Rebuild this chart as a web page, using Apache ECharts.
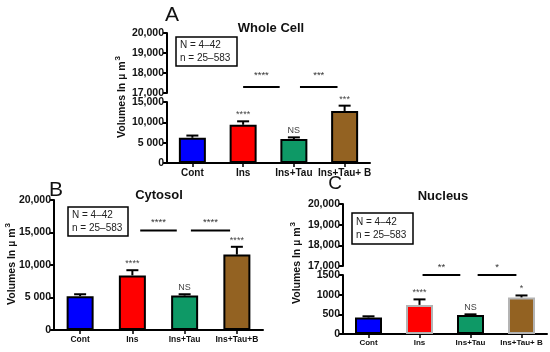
<!DOCTYPE html>
<html>
<head>
<meta charset="utf-8">
<script src="https://cdn.jsdelivr.net/npm/echarts@6/dist/echarts.min.js"></script>
<style>html,body{margin:0;padding:0;background:#fff}#c{width:550px;height:352px}</style>
</head>
<body>
<div id="c"></div>
<script>
// ---------- DATA ----------
const categoriesA = ['Cont', 'Ins', 'Ins+Tau', 'Ins+Tau+ B'];
const categoriesB = ['Cont', 'Ins', 'Ins+Tau', 'Ins+Tau+B'];
const categoriesC = ['Cont', 'Ins', 'Ins+Tau', 'Ins+Tau+ B'];

const meanA = [6200, 9400, 5900, 12800];
const semA  = [550, 850, 400, 1300];
const sigA  = ['', '****', 'NS', '***'];

const meanB = [5200, 8400, 5300, 11600];
const semB  = [300, 800, 200, 1200];
const sigB  = ['', '****', 'NS', '****'];

const meanC = [420, 740, 480, 930];
const semC  = [30, 140, 20, 50];
const sigC  = ['', '****', 'NS', '*'];

// brackets: [from (category units), to (category units), value, label]
const bracketsA = [[1.0, 1.72, 17300, '****'], [2.12, 2.86, 17300, '***']];
const bracketsB = [[1.15, 1.85, 15300, '****'], [2.12, 2.87, 15300, '****']];
const bracketsC = [[1.06, 1.8, 1500, '**'], [2.14, 2.9, 1500, '*']];

const tickValsUpper   = [17000, 18000, 19000, 20000];
const tickLabelsUpper = ['17,000', '18,000', '19,000', '20,000'];
const tickValsALower   = [0, 5000, 10000, 15000];
const tickLabelsALower = ['0', '5 000', '10,000', '15,000'];
const tickValsB   = [0, 5000, 10000, 15000, 20000];
const tickLabelsB = ['0', '5 000', '10,000', '15,000', '20,000'];
const tickValsCLower   = [0, 500, 1000, 1500];
const tickLabelsCLower = ['0', '500', '1000', '1500'];

const annotationLines = ['N = 4–42', 'n = 25–583'];
const yAxisName = 'Volumes In µ m';
// ---------- STYLE ----------
const FONT = '"Liberation Sans", Arial, sans-serif';
const barColors = ['#0000FF', '#FF0000', '#0E9966', '#936222'];
const bordersDefault = ['#000', '#000', '#000', '#000'];
const bordersC = ['#000', '#b4b4b4', '#000', '#b4b4b4'];

function fmt(vals, labels) {
  return function (v) { const k = vals.indexOf(v); return k >= 0 ? labels[k] : ''; };
}

function yAxis(gridIndex, min, max, interval, vals, labels) {
  return {
    type: 'value', gridIndex, min, max, interval,
    axisLine: { show: true, lineStyle: { color: '#000', width: 2 } },
    axisTick: { show: true, length: 4, lineStyle: { color: '#000', width: 2 } },
    splitLine: { show: false },
    axisLabel: { formatter: fmt(vals, labels), fontFamily: FONT, fontWeight: 'bold', fontSize: 10.5, color: '#111', margin: 3 }
  };
}
function xAxis(gridIndex, cats, show, fontSize) {
  return {
    type: 'category', gridIndex, data: cats, show: show,
    axisLine: { show: show, lineStyle: { color: '#000', width: 2 } },
    axisTick: { show: show, alignWithLabel: true, length: 4, lineStyle: { color: '#000', width: 1.5 } },
    axisLabel: { show: show, fontFamily: FONT, fontWeight: 'bold', fontSize: fontSize, color: '#111', margin: 5, interval: 0 }
  };
}
function barSeries(axisIdx, means, borders) {
  return {
    type: 'bar', xAxisIndex: axisIdx, yAxisIndex: axisIdx, barWidth: 27, z: 2,
    data: means.map((m, i) => ({ value: m, itemStyle: { color: barColors[i], borderColor: borders[i], borderWidth: 2 } }))
  };
}
function errSeries(axisIdx, means, sems, sigs, fontSize) {
  return {
    type: 'custom', xAxisIndex: axisIdx, yAxisIndex: axisIdx, z: 3,
    data: means.map((m, i) => [i, m, sems[i]]),
    renderItem: function (params, api) {
      const i = api.value(0), m = api.value(1), s = api.value(2);
      const base = api.coord([i, m]);
      const top = api.coord([i, m + s]);
      const cap = 6;
      const children = [];
      if (s > 0) {
        children.push({ type: 'line', shape: { x1: base[0], y1: base[1], x2: top[0], y2: top[1] }, style: { stroke: '#000', lineWidth: 2 } });
        children.push({ type: 'line', shape: { x1: top[0] - cap, y1: top[1], x2: top[0] + cap, y2: top[1] }, style: { stroke: '#000', lineWidth: 2 } });
      }
      const sig = sigs[params.dataIndex];
      if (sig) {
        children.push({ type: 'text', x: top[0], y: top[1] - 2, style: { text: sig, fill: '#444', fontFamily: FONT, fontSize: fontSize, align: 'center', verticalAlign: 'bottom' } });
      }
      return { type: 'group', children };
    }
  };
}
function bracketSeries(axisIdx, brackets, gap, lw) {
  return {
    type: 'custom', xAxisIndex: axisIdx, yAxisIndex: axisIdx, z: 3, clip: false,
    data: brackets.map(b => [Math.floor(b[0]), b[2]]),
    renderItem: function (params, api) {
      const b = brackets[params.dataIndex];
      const band = api.size([1, 0])[0];
      const f0 = Math.floor(b[0]), f1 = Math.floor(b[1]);
      const p0 = api.coord([f0, b[2]]);
      const p1 = api.coord([f1, b[2]]);
      const x0 = p0[0] + (b[0] - f0) * band;
      const x1 = p1[0] + (b[1] - f1) * band;
      return { type: 'group', children: [
        { type: 'line', shape: { x1: x0, y1: p0[1], x2: x1, y2: p0[1] }, style: { stroke: '#000', lineWidth: lw } },
        { type: 'text', x: (x0 + x1) / 2, y: p0[1] - gap, style: { text: b[3], fill: '#333', fontFamily: FONT, fontSize: 9.5, align: 'center', verticalAlign: 'bottom' } }
      ] };
    }
  };
}
function textG(txt, x, y, size, weight, extra) {
  return Object.assign({ type: 'text', x, y, style: { text: txt, fontFamily: FONT, fontSize: size, fontWeight: weight, fill: '#111', align: 'center', verticalAlign: 'middle' } }, extra || {});
}
function boxG(x, y, w, h) {
  return { type: 'group', x, y, children: [
    { type: 'rect', shape: { x: 0, y: 0, width: w, height: h }, style: { fill: '#fff', stroke: '#000', lineWidth: 1.5 } },
    { type: 'text', x: 4, y: h / 2, style: { text: annotationLines.join('\n'), fontFamily: FONT, fontSize: 10, fill: '#222', lineHeight: 13, align: 'left', verticalAlign: 'middle' } }
  ] };
}
function yNameG(x, y) {
  return { type: 'text', x, y, rotation: Math.PI / 2,
    style: { text: '{a|' + yAxisName + '}{b|3}', align: 'center', verticalAlign: 'middle',
      rich: { a: { fontFamily: FONT, fontSize: 10.5, fontWeight: 'bold', fill: '#111' },
              b: { fontFamily: FONT, fontSize: 8, fontWeight: 'bold', fill: '#111', padding: [0, 0, 9, 1] } } } };
}

const option = {
  animation: false,
  backgroundColor: '#fff',
  grid: [
    { left: 167, top: 33, width: 203, height: 60 },
    { left: 167, top: 102, width: 203, height: 61 },
    { left: 54, top: 200, width: 209, height: 130 },
    { left: 343, top: 204, width: 204, height: 62 },
    { left: 343, top: 275, width: 204, height: 59 }
  ],
  xAxis: [
    xAxis(0, categoriesA, false, 10),
    xAxis(1, categoriesA, true, 10),
    xAxis(2, categoriesB, true, 8.5),
    xAxis(3, categoriesC, false, 8),
    xAxis(4, categoriesC, true, 8)
  ],
  yAxis: [
    yAxis(0, 17000, 20000, 1000, tickValsUpper, tickLabelsUpper),
    yAxis(1, 0, 15000, 5000, tickValsALower, tickLabelsALower),
    yAxis(2, 0, 20000, 5000, tickValsB, tickLabelsB),
    yAxis(3, 17000, 20000, 1000, tickValsUpper, tickLabelsUpper),
    yAxis(4, 0, 1500, 500, tickValsCLower, tickLabelsCLower)
  ],
  series: [
    barSeries(1, meanA, bordersDefault),
    errSeries(1, meanA, semA, sigA, 9),
    bracketSeries(0, bracketsA, 7, 2),
    barSeries(2, meanB, bordersDefault),
    errSeries(2, meanB, semB, sigB, 9),
    bracketSeries(2, bracketsB, 3, 2),
    barSeries(4, meanC, bordersC),
    errSeries(4, meanC, semC, sigC, 9),
    bracketSeries(4, bracketsC, 3, 2)
  ],
  graphic: [
    textG('A', 172, 15, 21, 'normal'),
    textG('B', 56, 190, 21, 'normal'),
    textG('C', 335, 184, 19, 'normal'),
    textG('Whole Cell', 271, 28, 13, 'bold'),
    textG('Cytosol', 159, 195, 13, 'bold'),
    textG('Nucleus', 443, 196, 13, 'bold'),
    boxG(176, 37, 61, 29),
    boxG(68, 207, 60, 29),
    boxG(352, 213, 61, 31),
    yNameG(122, 97),
    yNameG(12, 264),
    yNameG(297, 263)
  ]
};
const chart = echarts.init(document.getElementById('c'), null, { renderer: 'canvas' });
chart.setOption(option);
</script>
</body>
</html>
